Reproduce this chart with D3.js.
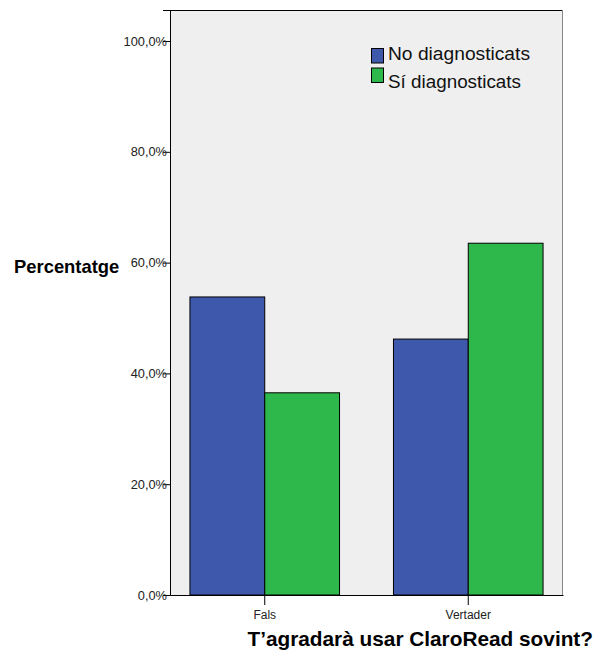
<!DOCTYPE html>
<html>
<head>
<meta charset="utf-8">
<script src="https://cdn.jsdelivr.net/npm/d3@7"></script>
<style>
  body { margin: 0; background: #fff; }
  text { font-family: "Liberation Sans", Arial, sans-serif; }
</style>
</head>
<body>
<script>
// data
var categories = ["Fals", "Vertader"];
var series = ["No diagnosticats", "Sí diagnosticats"];
var noDiag = [53.8, 46.2];
var siDiag = [36.5, 63.5];
var yTicks = [0, 20, 40, 60, 80, 100];
var colors = ["#3e58ac", "#2eb84b"];

var margin = {top: 10, right: 34, bottom: 56, left: 170},
    width = 597 - margin.left - margin.right,
    height = 651 - margin.top - margin.bottom;

var svg = d3.select("body").append("svg")
    .attr("width", 597)
    .attr("height", 651);

var g = svg.append("g")
    .attr("transform", "translate(" + margin.left + "," + margin.top + ")");

// scales
var x0 = d3.scaleBand().domain(categories).range([0, width])
    .paddingInner(0.265).paddingOuter(0.098);
var x1 = d3.scaleBand().domain(series).range([0, x0.bandwidth()]);
var y = d3.scaleLinear().domain([0, 105.6]).range([height, 0]);

// plot background
g.append("rect")
    .attr("width", width).attr("height", height)
    .attr("fill", "#efefef");

// bars
var rows = categories.map(function(c, i) {
  return {cat: c, vals: [noDiag[i], siDiag[i]]};
});
g.selectAll(".grp")
  .data(rows)
  .enter().append("g")
    .attr("transform", function(d) { return "translate(" + x0(d.cat) + ",0)"; })
  .selectAll("rect")
  .data(function(d) { return d.vals.map(function(v, j) { return {s: series[j], v: v, j: j}; }); })
  .enter().append("rect")
    .attr("x", function(d) { return x1(d.s); })
    .attr("y", function(d) { return y(d.v); })
    .attr("width", x1.bandwidth())
    .attr("height", function(d) { return height - y(d.v); })
    .attr("fill", function(d) { return colors[d.j]; })
    .attr("stroke", "#000")
    .attr("stroke-width", 1);

// frame: top + left black, right gray
g.append("line").attr("x1", 0).attr("x2", width).attr("y1", 0.5).attr("y2", 0.5)
    .attr("stroke", "#000");
g.append("line").attr("x1", width - 0.5).attr("x2", width - 0.5).attr("y1", 0).attr("y2", height)
    .attr("stroke", "#888");

// y axis
var yAxis = d3.axisLeft(y).tickValues(yTicks).tickSize(7).tickPadding(-4)
    .tickFormat(function(d) { return d3.format(".1f")(d).replace(".", ",") + "%"; });
var ya = g.append("g").call(yAxis);
ya.select(".domain").attr("stroke", "#000");
ya.selectAll("text").attr("font-size", 12.8).attr("fill", "#222")
    .attr("font-family", "Liberation Sans, Arial, sans-serif");

// x axis
var xAxis = d3.axisBottom(x0).tickSize(10).tickSizeOuter(0).tickPadding(5);
var xa = g.append("g").attr("transform", "translate(0," + height + ")").call(xAxis);
xa.select(".domain").attr("stroke", "#000");
xa.selectAll("text").attr("font-size", 12).attr("fill", "#222")
    .attr("font-family", "Liberation Sans, Arial, sans-serif");

// axis titles
svg.append("text")
    .attr("x", 14).attr("y", 273)
    .attr("font-size", 18.4).attr("font-weight", "bold")
    .text("Percentatge");
svg.append("text")
    .attr("x", 593).attr("y", 646)
    .attr("text-anchor", "end")
    .attr("font-size", 20.8).attr("font-weight", "bold")
    .text("T’agradarà usar ClaroRead sovint?");

// legend
var leg = svg.append("g").attr("transform", "translate(371,48)");
series.forEach(function(s, i) {
  leg.append("rect")
      .attr("x", 0.5).attr("y", i * 19.5 + 0.5)
      .attr("width", 12).attr("height", 14.5)
      .attr("fill", colors[i]).attr("stroke", "#000");
  leg.append("text")
      .attr("x", 17).attr("y", i * 28 + 12)
      .attr("font-family", "Open Sans, sans-serif")
      .attr("font-size", 17.5).attr("fill", "#111")
      .attr("textLength", i === 0 ? 142 : 133)
      .attr("lengthAdjust", "spacingAndGlyphs")
      .text(s);
});
</script>
</body>
</html>
